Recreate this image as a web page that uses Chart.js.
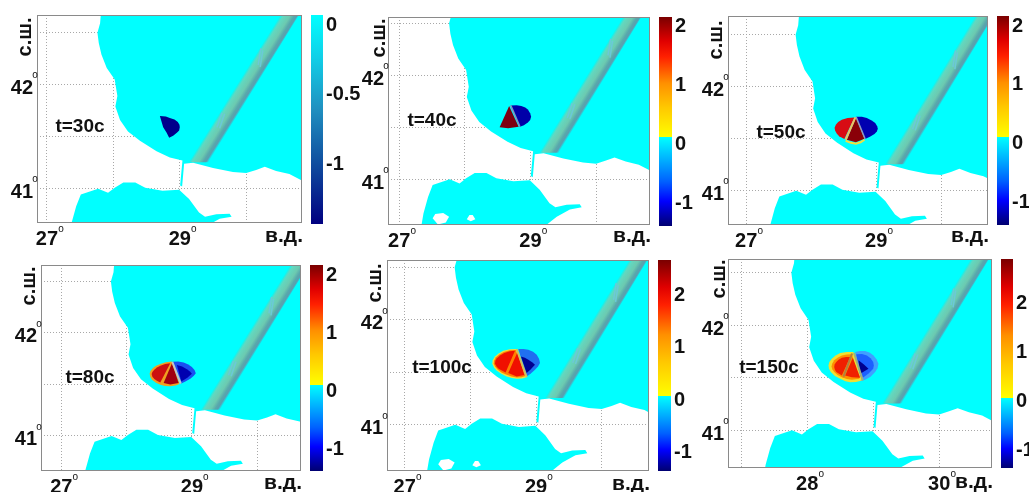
<!DOCTYPE html>
<html>
<head>
<meta charset="utf-8">
<title>t</title>
<script src="https://cdn.jsdelivr.net/npm/chart.js@4/dist/chart.umd.min.js"></script>
<style>
html, body { margin:0; padding:0; background:#fff; overflow:hidden; width:1029px; height:492px; }
canvas { position:absolute; }
</style>
</head>
<body>
<script>
// axes
var lonTicks = [27, 28, 29, 30];
var latTicks = [42.5, 42, 41.5, 41];
var lonLabels = ['27', '', '29', ''];
var lonLabelsLast = ['', '28', '', '30'];
var latLabels = ['', '42', '', '41'];
var timeLabels = ['t=30с', 't=40с', 't=50с', 't=80с', 't=100с', 't=150с'];
var barTicksFirst = [0, -0.5, -1];
var barTicks = [2, 1, 0, -1];

// coast, lon/lat
var seaNorth = [[27.82,42.75],[27.81,42.67],[27.80,42.59],[27.76,42.50],[27.78,42.40],[27.82,42.29],[27.90,42.16],[28.02,42.05],
  [28.06,41.89],[28.03,41.79],[28.10,41.66],[28.22,41.55],[28.40,41.46],[28.65,41.36],[28.85,41.30],[29.04,41.27],
  [29.005,41.03],[29.035,41.02],[29.065,41.24],[29.20,41.25],[29.50,41.20],[29.80,41.16],[30.00,41.15],[30.15,41.18],
  [30.28,41.21],[30.45,41.17],[30.65,41.14],[30.83,41.08],[31.00,41.05],[31.00,42.75]];
var seaMarmara = [[27.34,40.50],[27.34,40.56],[27.37,40.67],[27.44,40.83],[27.51,40.945],[27.77,41.00],[27.92,40.96],[28.02,41.01],
  [28.15,41.06],[28.33,41.06],[28.48,41.01],[28.74,40.98],[28.99,40.99],[29.14,40.90],[29.29,40.77],[29.38,40.73],
  [29.55,40.755],[29.75,40.76],[29.78,40.73],[29.60,40.71],[29.40,40.64],[29.24,40.56],[29.20,40.50]];
var lakeWest = [[27.51,40.625],[27.55,40.665],[27.67,40.675],[27.76,40.64],[27.71,40.585],[27.59,40.565]];
var lakeEast = [[28.03,40.615],[28.07,40.655],[28.12,40.655],[28.16,40.615],[28.09,40.595]];
var band = [[29.14,41.255],[30.60,42.75],[30.87,42.75],[29.43,41.255]];
var bandMarkLow = [[29.56,41.59],[29.635,41.73]];
var bandMarkLow2 = [[29.60,41.58],[29.675,41.72]];
var bandMarkHigh = [[30.18,42.19],[30.22,42.35]];
var bandMarkHigh2 = [[30.21,42.17],[30.25,42.33]];

// source, one list per part and time
var s30Blue = [[28.70,41.70],[28.79,41.695],[28.85,41.68],[28.92,41.665],[28.97,41.64],[28.995,41.615],[29.00,41.59],[28.99,41.56],[28.96,41.54],[28.90,41.51],[28.84,41.49],[28.80,41.54],[28.75,41.59]];

var s40Blue = [[28.70,41.71],[28.79,41.712],[28.86,41.705],[28.92,41.69],[28.96,41.67],[28.995,41.635],[29.01,41.60],[28.995,41.57],[28.96,41.545],[28.90,41.52],[28.84,41.505]];
var s40Red = [[28.675,41.705],[28.53,41.50],[28.66,41.49],[28.82,41.505]];
var s40Line = [[28.70,41.71],[28.84,41.505]];

var s50Blue = [[28.69,41.71],[28.78,41.71],[28.856,41.70],[28.93,41.675],[28.985,41.65],[29.015,41.62],[29.025,41.596],[29.01,41.57],[28.974,41.545],[28.91,41.52],[28.83,41.497]];
var s50Left = [[28.666,41.705],[28.56,41.70],[28.47,41.683],[28.415,41.66],[28.379,41.635],[28.36,41.605],[28.369,41.577],[28.395,41.548],[28.43,41.523],[28.51,41.497]];
var s50Mid = [[28.69,41.705],[28.548,41.49],[28.687,41.465],[28.82,41.50]];
var s50Strip = [[28.68,41.705],[28.53,41.49]];
var s50Rim = [[28.53,41.48],[28.61,41.46],[28.687,41.452],[28.76,41.465],[28.82,41.49]];
var s50Line = [[28.69,41.71],[28.83,41.497]];

var s80Blue = [[28.705,41.72],[28.79,41.722],[28.873,41.714],[28.945,41.695],[29.00,41.669],[29.04,41.64],[29.06,41.61],[29.03,41.585],[28.975,41.555],[28.90,41.53],[28.83,41.508]];
var s80Navy = [[28.77,41.69],[28.85,41.675],[28.924,41.649],[28.97,41.625],[29.00,41.604],[28.93,41.565],[28.838,41.53]];
var s80Warm = [[28.695,41.723],[28.60,41.717],[28.516,41.70],[28.45,41.682],[28.404,41.659],[28.365,41.63],[28.353,41.604],[28.363,41.572],[28.389,41.546],[28.45,41.517],[28.516,41.498],[28.59,41.485],[28.669,41.482],[28.75,41.49],[28.812,41.504]];
var s80Left = [[28.669,41.707],[28.59,41.70],[28.516,41.681],[28.465,41.665],[28.424,41.643],[28.395,41.62],[28.383,41.601],[28.395,41.575],[28.424,41.553],[28.47,41.535],[28.516,41.52]];
var s80Mid = [[28.695,41.707],[28.567,41.514],[28.669,41.501],[28.797,41.514]];
var s80Line = [[28.70,41.72],[28.83,41.508]];

var s100Blue = [[28.73,41.721],[28.81,41.723],[28.883,41.715],[28.955,41.695],[29.01,41.667],[29.045,41.63],[29.06,41.588],[29.03,41.555],[28.984,41.524],[28.925,41.49],[28.857,41.461]];
var s100Navy = [[28.77,41.651],[28.83,41.64],[28.883,41.62],[28.94,41.595],[28.984,41.572],[28.92,41.53],[28.857,41.493]];
var s100Warm = [[28.705,41.721],[28.60,41.72],[28.50,41.705],[28.43,41.68],[28.374,41.651],[28.34,41.615],[28.333,41.581],[28.36,41.545],[28.399,41.518],[28.47,41.487],[28.552,41.461],[28.63,41.445],[28.705,41.439],[28.79,41.442],[28.857,41.454]];
var s100Ring = [[28.69,41.713],[28.60,41.71],[28.508,41.694],[28.44,41.67],[28.389,41.643],[28.36,41.61],[28.354,41.581],[28.38,41.55],[28.417,41.525],[28.48,41.497],[28.544,41.48],[28.625,41.46],[28.705,41.45],[28.78,41.453],[28.84,41.464]];
var s100Left = [[28.679,41.705],[28.60,41.70],[28.516,41.683],[28.45,41.66],[28.404,41.635],[28.38,41.61],[28.374,41.581],[28.40,41.553],[28.435,41.531],[28.536,41.499]];
var s100Mid = [[28.715,41.689],[28.577,41.493],[28.705,41.461],[28.822,41.474]];
var s100Line = [[28.705,41.721],[28.857,41.454]];

var s150Blue = [[28.727,41.744],[28.80,41.755],[28.878,41.754],[28.95,41.737],[29.005,41.712],[29.05,41.675],[29.08,41.633],[29.065,41.59],[29.03,41.553],[28.96,41.51],[28.878,41.48],[28.803,41.467]];
var s150BlueMid = [[28.742,41.722],[28.83,41.725],[28.904,41.712],[28.96,41.685],[29.00,41.649],[29.01,41.615],[29.00,41.585],[28.93,41.54],[28.853,41.505],[28.803,41.499]];
var s150Navy = [[28.777,41.665],[28.86,41.625],[28.929,41.585],[28.86,41.56],[28.803,41.537]];
var s150Warm = [[28.70,41.744],[28.60,41.745],[28.50,41.735],[28.43,41.71],[28.373,41.68],[28.335,41.65],[28.323,41.617],[28.33,41.585],[28.358,41.553],[28.42,41.515],[28.50,41.489],[28.58,41.467],[28.651,41.457],[28.74,41.46],[28.828,41.473]];
var s150Ring = [[28.676,41.722],[28.60,41.72],[28.525,41.712],[28.46,41.69],[28.409,41.665],[28.38,41.635],[28.368,41.607],[28.38,41.58],[28.409,41.553],[28.46,41.525],[28.525,41.505],[28.60,41.487],[28.676,41.48],[28.792,41.489]];
var s150Left = [[28.651,41.696],[28.59,41.697],[28.525,41.69],[28.475,41.67],[28.44,41.649],[28.415,41.625],[28.409,41.601],[28.42,41.575],[28.44,41.553],[28.525,41.521]];
var s150Mid = [[28.691,41.69],[28.575,41.521],[28.676,41.505],[28.803,41.499]];
var s150Strip = [[28.68,41.73],[28.55,41.51]];
var s150Line = [[28.71,41.735],[28.843,41.473]];

var SEA = '#00ffff';
var FONT = '"Liberation Sans", Arial, sans-serif';
var warmStops = [[0,'#7a0000'],[0.2,'#e00000'],[0.33,'#ff2000'],[0.55,'#ff9000'],[0.75,'#ffc800'],[1,'#ffff00']];
var coldStops = [[0,'#00ffff'],[0.25,'#00b0ff'],[0.5,'#0060ff'],[0.72,'#0000ff'],[1,'#000070']];
var coldStopsFirst = [[0,'#00ffff'],[0.2,'#10d0e8'],[0.45,'#2090c0'],[0.7,'#1050a0'],[1,'#000080']];
var bandStops = [[0,'#10f4ee'],[0.16,'#62d8c0'],[0.5,'#6ccab0'],[0.72,'#58a8ac'],[0.86,'#5a9eb0'],[1,'#08f6f8']];

var panels = [
  { box:[37,15,302,223], lon:[26.85,30.84], lat:[40.67,42.67], lakes:false, lonLab:lonLabels, time:[80,127], unitY:236, latX:25, latY:37,
    bar:{ box:[311,15,323,224], range:[-1.446,0.058], ticks:barTicksFirst, jump:null },
    areas:[[s30Blue,'#00008b']], lines:[] },
  { box:[388,17,650,225], lon:[26.83,30.82], lat:[40.56,42.56], lakes:true, lonLab:lonLabels, time:[432,121], unitY:236, latX:379, latY:38,
    bar:{ box:[659,17,672,226], range:[-1.42,2.12], ticks:barTicks, jump:0.08 },
    areas:[[s40Blue,'#0000a8'],[s40Red,'#7d0012']], lines:[[s40Line,'#8090c0',1.5]] },
  { box:[728,16,988,225], lon:[26.72,30.72], lat:[40.67,42.68], lakes:false, lonLab:lonLabels, time:[781,133], unitY:236, latX:716, latY:40,
    bar:{ box:[997,16,1009,225], range:[-1.41,2.136], ticks:barTicks, jump:0.08 },
    areas:[[s50Blue,'#0000b0'],[s50Left,'#d80c14'],[s50Mid,'#8a0008']], lines:[[s50Strip,'#f0c060',2],[s50Rim,'#f0e040',2],[s50Line,'#9098c0',1.5]] },
  { box:[41,265,301,471], lon:[26.69,30.67], lat:[40.66,42.66], lakes:false, lonLab:lonLabels, time:[90,378], unitY:483, latX:29, latY:286,
    bar:{ box:[310,265,323,471], range:[-1.41,2.14], ticks:barTicks, jump:0.08 },
    areas:[[s80Blue,'#1a50f0'],[s80Navy,'#0000b0'],[s80Warm,'#f0a020'],[s80Left,'#cc1010'],[s80Mid,'#a00010']], lines:[[s80Line,'#c0c8c8',2]] },
  { box:[387,260,649,471], lon:[26.73,30.72], lat:[40.56,42.57], lakes:true, lonLab:lonLabels, time:[442,368], unitY:484, latX:375, latY:283,
    bar:{ box:[658,260,671,471], range:[-1.40,2.65], ticks:barTicks, jump:0.04 },
    areas:[[s100Blue,'#2070f0'],[s100Navy,'#000090'],[s100Warm,'#f0e040'],[s100Ring,'#ff8000'],[s100Left,'#f01000'],[s100Mid,'#f01000']], lines:[[s100Line,'#d0c060',2]] },
  { box:[728,259,992,468], lon:[26.80,30.80], lat:[40.64,42.63], lakes:false, lonLab:lonLabelsLast, time:[769,368], unitY:482, latX:719, latY:279,
    bar:{ box:[1001,259,1013,468], range:[-1.41,2.88], ticks:barTicks, jump:0.02 },
    areas:[[s150Blue,'#40a0ff'],[s150BlueMid,'#1c60ff'],[s150Navy,'#000090'],[s150Warm,'#f0e030'],[s150Ring,'#ff9000'],[s150Left,'#f02000'],[s150Mid,'#f02000']],
    lines:[[s150Strip,'#b08040',2],[s150Line,'#a0b080',2]] }
];

function toPoints(list) {
  return list.map(function(p){ return { x:p[0], y:p[1] }; });
}

function areaSet(list, color, stops) {
  return { data:toPoints(list), showLine:false, pointRadius:0, area:color, areaStops:stops };
}

function lineSet(list, color, width) {
  return { data:toPoints(list), showLine:true, pointRadius:0, borderColor:color, borderWidth:width, tension:0 };
}

// filled outlines go under the lines, placed through the chart scales
var mapAreas = {
  id:'mapAreas',
  beforeDatasetsDraw:function(chart) {
    var ctx = chart.ctx, a = chart.chartArea, sx = chart.scales.x, sy = chart.scales.y;
    ctx.save();
    ctx.beginPath();
    ctx.rect(a.left, a.top, a.right-a.left, a.bottom-a.top);
    ctx.clip();
    chart.data.datasets.forEach(function(ds) {
      if (!ds.area && !ds.areaStops) return;
      var pts = ds.data.map(function(p){ return [sx.getPixelForValue(p.x), sy.getPixelForValue(p.y)]; });
      ctx.beginPath();
      pts.forEach(function(p, i){ if (i==0) ctx.moveTo(p[0],p[1]); else ctx.lineTo(p[0],p[1]); });
      ctx.closePath();
      if (ds.areaStops) {
        // gradient across the band
        var ex = pts[1][0]-pts[0][0], ey = pts[1][1]-pts[0][1];
        var wx = pts[3][0]-pts[0][0], wy = pts[3][1]-pts[0][1];
        var k = (wx*ex+wy*ey)/(ex*ex+ey*ey);
        var g = ctx.createLinearGradient(pts[0][0], pts[0][1], pts[0][0]+wx-k*ex, pts[0][1]+wy-k*ey);
        ds.areaStops.forEach(function(s){ g.addColorStop(s[0], s[1]); });
        ctx.fillStyle = g;
      } else {
        ctx.fillStyle = ds.area;
      }
      ctx.fill();
    });
    ctx.restore();
  }
};

var mapText = {
  id:'mapText',
  afterDraw:function(chart) {
    var p = chart.options.plugins.mapText.panel, off = chart.options.plugins.mapText.offset;
    var ctx = chart.ctx, a = chart.chartArea, sx = chart.scales.x, sy = chart.scales.y;
    ctx.save();
    ctx.strokeStyle = '#8a8a8a';
    ctx.lineWidth = 1;
    ctx.strokeRect(a.left+0.5, a.top+0.5, a.right-a.left-1, a.bottom-a.top-1);

    ctx.fillStyle = '#111';
    ctx.textAlign = 'center';
    ctx.textBaseline = 'middle';
    ctx.font = 'bold 19px '+FONT;
    ctx.fillText(timeLabels[p.index], p.time[0]-off[0], p.time[1]-off[1]);

    ctx.font = 'bold 21px '+FONT;
    ctx.textAlign = 'right';
    ctx.fillText('в.д.', a.right+1, p.unitY-off[1]);

    ctx.save();
    ctx.translate(p.latX-off[0], p.latY-off[1]);
    ctx.rotate(-Math.PI/2);
    ctx.textAlign = 'center';
    ctx.font = 'bold 20px '+FONT;
    ctx.fillText('с.ш.', 0, 0);
    ctx.restore();

    // small raised "o" next to the degree labels
    ctx.font = '10px '+FONT;
    ctx.textAlign = 'center';
    lonTicks.forEach(function(v, i) {
      if (p.lonLab[i]) ctx.fillText('o', sx.getPixelForValue(v)+14, a.bottom+6);
    });
    latTicks.forEach(function(v, i) {
      if (latLabels[i]) ctx.fillText('o', a.left-2, sy.getPixelForValue(v)-9);
    });
    ctx.restore();
  }
};

function makeMap(p, i) {
  p.index = i;
  var box = p.box;
  var left = box[0]-36, top = box[1]-20;
  var c = document.createElement('canvas');
  c.width = box[2]-box[0]+42;
  c.height = box[3]-box[1]+44;
  c.style.left = left+'px';
  c.style.top = top+'px';
  document.body.appendChild(c);

  var sets = [areaSet(seaNorth, SEA), areaSet(seaMarmara, SEA)];
  if (p.lakes) {
    sets.push(areaSet(lakeWest, '#ffffff'));
    sets.push(areaSet(lakeEast, '#ffffff'));
  }
  sets.push(areaSet(band, null, bandStops));
  p.areas.forEach(function(a){ sets.push(areaSet(a[0], a[1])); });
  [bandMarkLow, bandMarkLow2, bandMarkHigh, bandMarkHigh2].forEach(function(m){ sets.push(lineSet(m, '#6cc8d8', 1.5)); });
  p.lines.forEach(function(l){ sets.push(lineSet(l[0], l[1], l[2])); });

  new Chart(c, {
    type:'scatter',
    data:{ datasets:sets },
    plugins:[mapAreas, mapText],
    options:{
      responsive:false,
      animation:false,
      events:[],
      layout:{ padding:{ top:20, right:6, left:0, bottom:0 } },
      plugins:{ legend:{ display:false }, tooltip:{ enabled:false }, mapText:{ panel:p, offset:[left, top] } },
      scales:{
        x:{
          type:'linear', min:p.lon[0], max:p.lon[1], bounds:'data',
          afterBuildTicks:function(s){ s.ticks = lonTicks.map(function(v){ return { value:v }; }); },
          afterFit:function(s){ s.height = 24; },
          grid:{ color:'#a8a8a8', lineWidth:1, drawTicks:false },
          border:{ display:false, dash:[1,2] },
          ticks:{ autoSkip:false, maxRotation:0, padding:4, color:'#111', font:{ family:FONT, size:20, weight:'bold' },
            callback:function(v, k){ return p.lonLab[k]; } }
        },
        y:{
          type:'linear', min:p.lat[0], max:p.lat[1], bounds:'data',
          afterBuildTicks:function(s){ s.ticks = latTicks.map(function(v){ return { value:v }; }); },
          afterFit:function(s){ s.width = 36; },
          grid:{ color:'#a8a8a8', lineWidth:1, drawTicks:false },
          border:{ display:false, dash:[1,2] },
          ticks:{ autoSkip:false, padding:4, labelOffset:4, color:'#111', font:{ family:FONT, size:20, weight:'bold' },
            callback:function(v, k){ return latLabels[k]; } }
        }
      }
    }
  });
}

function makeBar(p) {
  var b = p.bar, box = b.box;
  var c = document.createElement('canvas');
  c.width = box[2]-box[0]+44;
  c.height = box[3]-box[1]+40;
  c.style.left = box[0]+'px';
  c.style.top = (box[1]-20)+'px';
  document.body.appendChild(c);

  new Chart(c, {
    type:'bar',
    data:{
      labels:[''],
      datasets:[{
        data:[[b.range[0], b.range[1]]],
        barPercentage:1,
        categoryPercentage:1,
        backgroundColor:function(ctx) {
          var y = ctx.chart.scales.y;
          if (!y || !isFinite(y.top) || !isFinite(y.bottom) || y.bottom <= y.top) return '#00ffff';
          var g = ctx.chart.ctx.createLinearGradient(0, y.top, 0, y.bottom);
          if (b.jump === null) {
            coldStopsFirst.forEach(function(s){ g.addColorStop(s[0], s[1]); });
            return g;
          }
          var f = (y.getPixelForValue(b.jump)-y.top)/(y.bottom-y.top);
          warmStops.forEach(function(s){ g.addColorStop(s[0]*f, s[1]); });
          coldStops.forEach(function(s){ g.addColorStop(f+s[0]*(1-f), s[1]); });
          return g;
        }
      }]
    },
    options:{
      responsive:false,
      animation:false,
      events:[],
      layout:{ padding:{ top:20, bottom:20, left:0, right:0 } },
      plugins:{ legend:{ display:false }, tooltip:{ enabled:false } },
      scales:{
        x:{ display:false },
        y:{
          type:'linear', position:'right', min:b.range[0], max:b.range[1], bounds:'data',
          afterBuildTicks:function(s){ s.ticks = b.ticks.map(function(v){ return { value:v }; }); },
          afterFit:function(s){ s.width = 44; },
          grid:{ display:false, drawTicks:false },
          border:{ display:false },
          ticks:{ autoSkip:false, padding:3, labelOffset:2, color:'#111', font:{ family:FONT, size:20, weight:'bold' },
            callback:function(v){ return String(v); } }
        }
      }
    }
  });
}

panels.forEach(function(p, i) {
  makeMap(p, i);
  makeBar(p);
});
</script>
</body>
</html>
